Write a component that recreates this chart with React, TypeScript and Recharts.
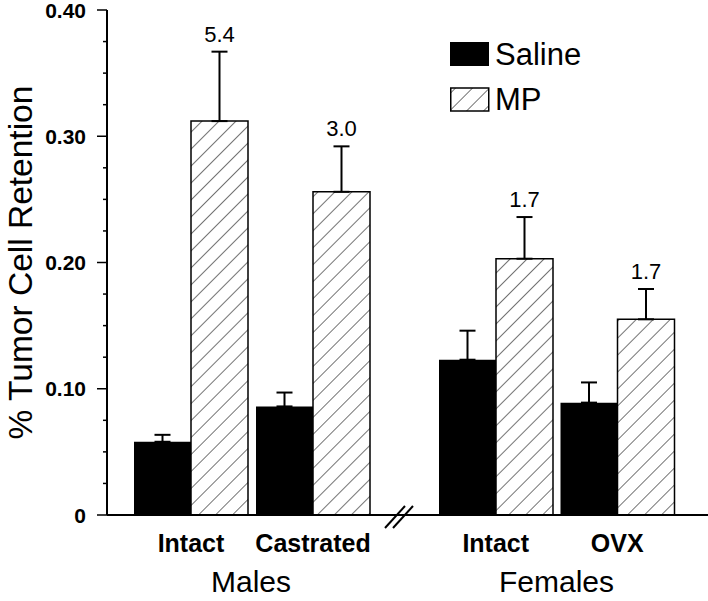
import React from "react";
import { BarChart, Bar, XAxis, YAxis, ErrorBar, LabelList, Legend } from "recharts";

const FONT = "'Liberation Sans', Arial, Helvetica, sans-serif";

const maleGroups = ["Intact", "Castrated"];
const maleSaline = [0.058, 0.086];
const maleSalineErr = [0.0055, 0.011];
const maleMP = [0.312, 0.256];
const maleMPErr = [0.055, 0.036];
const maleFold = ["5.4", "3.0"];

const femaleGroups = ["Intact", "OVX"];
const femaleSaline = [0.123, 0.089];
const femaleSalineErr = [0.023, 0.016];
const femaleMP = [0.203, 0.155];
const femaleMPErr = [0.033, 0.024];
const femaleFold = ["1.7", "1.7"];

const yMajor = [0, 0.1, 0.2, 0.3, 0.4];
const yTicks = [0, 0.025, 0.05, 0.075, 0.1, 0.125, 0.15, 0.175, 0.2, 0.225, 0.25, 0.275, 0.3, 0.325, 0.35, 0.375, 0.4];

const TICK_SIZE = 10;
const TICK_MARGIN = 11;

const build = (groups: string[], sal: number[], salErr: number[], mp: number[], mpErr: number[], fold: string[]) =>
  groups.map((g, i) => ({
    group: g,
    saline: sal[i],
    salineErr: [0, salErr[i]],
    mp: mp[i],
    mpErr: [0, mpErr[i]],
    fold: fold[i],
  }));

const maleData = build(maleGroups, maleSaline, maleSalineErr, maleMP, maleMPErr, maleFold);
const femaleData = build(femaleGroups, femaleSaline, femaleSalineErr, femaleMP, femaleMPErr, femaleFold);

function YTick(props: any) {
  const { x, y, payload } = props;
  const v = payload.value;
  const major = yMajor.some((m) => Math.abs(m - v) < 1e-6);
  const axisX = x + TICK_SIZE + TICK_MARGIN;
  return (
    <g>
      <line x1={axisX - (major ? TICK_SIZE : 4)} x2={axisX} y1={y} y2={y} stroke="#000" strokeWidth={1.5} />
      {major && (
        <text x={x} y={y} dy="0.36em" textAnchor="end" fontSize={21} fontWeight="bold" fill="#000">
          {v === 0 ? "0" : v.toFixed(2)}
        </text>
      )}
    </g>
  );
}

function Hatch({ id }: { id: string }) {
  return (
    <pattern id={id} patternUnits="userSpaceOnUse" width={12} height={12} patternTransform="rotate(45)">
      <rect width={12} height={12} fill="#fff" />
      <line x1={0} y1={0} x2={0} y2={12} stroke="#000" strokeWidth={1.1} />
    </pattern>
  );
}

function foldLabel(data: any[]) {
  return (p: any) => {
    const { x, y, width, height, index } = p;
    const d = data[index];
    if (!d) return null;
    const capY = y - (d.mpErr[1] * height) / d.mp;
    return (
      <text x={x + width / 2} y={capY - 10} textAnchor="middle" fontSize={22} fill="#000">
        {d.fold}
      </text>
    );
  };
}

function LegendBox() {
  return (
    <svg width={220} height={80} style={{ overflow: "visible", display: "block" }}>
      <defs>
        <Hatch id="hatchLegend" />
      </defs>
      <rect x={0} y={0} width={39} height={24} fill="#000" />
      <text x={45} y={23} fontSize={31} fontFamily={FONT} fill="#000">Saline</text>
      <rect x={0.75} y={46} width={38} height={23} fill="url(#hatchLegend)" stroke="#000" strokeWidth={1.5} />
      <text x={45} y={68} fontSize={31} fontFamily={FONT} fill="#000">MP</text>
    </svg>
  );
}

function Panel({
  data,
  width,
  title,
  titleDx,
  padding,
  showY,
  hatchId,
}: {
  data: any[];
  width: number;
  title: string;
  titleDx: number;
  padding: { left: number; right: number };
  showY: boolean;
  hatchId: string;
}) {
  return (
    <BarChart width={width} height={601} data={data} margin={{ top: 10, right: 0, bottom: 0, left: 0 }} barGap={0} barSize={57}>
      <defs>
        <Hatch id={hatchId} />
      </defs>
      <XAxis
        dataKey="group"
        height={86}
        padding={padding}
        axisLine={{ stroke: "#000", strokeWidth: 2 }}
        tickLine={false}
        tickSize={6}
        tickMargin={13}
        tick={{ fill: "#000", fontSize: 25, fontWeight: "bold" }}
        label={{ value: title, position: "insideBottom", offset: 9, dx: titleDx, fontSize: 30, fill: "#000" }}
      />
      <YAxis
        hide={!showY}
        width={107}
        domain={[0, 0.4]}
        ticks={yTicks}
        interval={0}
        tickLine={false}
        tickSize={TICK_SIZE}
        tickMargin={TICK_MARGIN}
        tick={<YTick />}
        axisLine={{ stroke: "#000", strokeWidth: 2 }}
        label={{
          content: (p: any) => {
            const vb = p.viewBox;
            const cx = vb.x + 32;
            const cy = vb.y + vb.height / 2;
            return (
              <text x={cx} y={cy} transform={`rotate(-90 ${cx} ${cy})`} textAnchor="middle" fontSize={33.5} fill="#000">
                % Tumor Cell Retention
              </text>
            );
          },
        }}
      />
      {!showY && (
        <Legend
          layout="horizontal"
          verticalAlign="middle"
          align="center"
          wrapperStyle={{ top: 42, left: 55, width: 220, height: 80 }}
          content={() => <LegendBox />}
        />
      )}
      <Bar dataKey="saline" name="Saline" fill="#000" isAnimationActive={false}>
        <ErrorBar dataKey="salineErr" width={8} stroke="#000" strokeWidth={2} isAnimationActive={false} />
      </Bar>
      <Bar dataKey="mp" name="MP" fill={`url(#${hatchId})`} stroke="#000" strokeWidth={1.5} isAnimationActive={false}>
        <ErrorBar dataKey="mpErr" width={8} stroke="#000" strokeWidth={2} isAnimationActive={false} />
        <LabelList dataKey="fold" content={foldLabel(data)} />
      </Bar>
    </BarChart>
  );
}

export default function App() {
  return (
    <div style={{ position: "absolute", left: 0, top: 0, width: 708, height: 601, background: "#fff", fontFamily: FONT }}>
      <div style={{ position: "absolute", left: 0, top: 0 }}>
        <Panel data={maleData} width={395} title="Males" titleDx={0} padding={{ left: 23, right: 21 }} showY hatchId="hatchM" />
      </div>
      <div style={{ position: "absolute", left: 395, top: 0 }}>
        <Panel data={femaleData} width={313} title="Females" titleDx={5} padding={{ left: 40, right: 30 }} showY={false} hatchId="hatchF" />
      </div>
      <svg width={708} height={601} style={{ position: "absolute", left: 0, top: 0, pointerEvents: "none" }}>
        <line x1={385} y1={528} x2={405} y2={506} stroke="#000" strokeWidth={2} />
        <line x1={393} y1={528} x2={413} y2={506} stroke="#000" strokeWidth={2} />
      </svg>
    </div>
  );
}
